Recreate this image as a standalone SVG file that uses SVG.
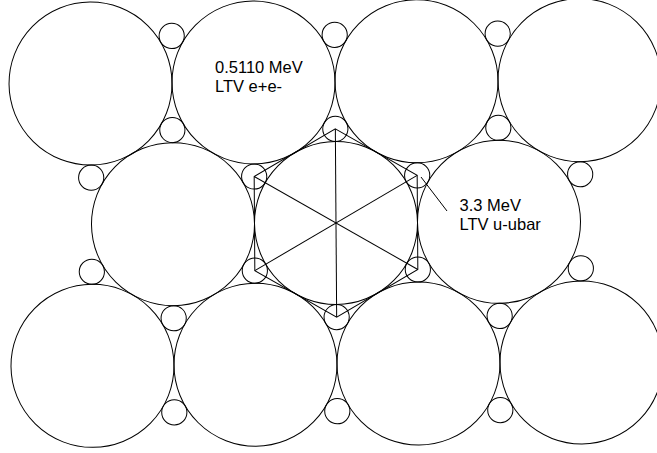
<svg xmlns="http://www.w3.org/2000/svg" width="657" height="453" viewBox="0 0 657 453">
<defs>
<style>
.big{fill:none;stroke:#000;stroke-width:1}
.small{fill:none;stroke:#000;stroke-width:1}
.ln{fill:none;stroke:#000;stroke-width:1}
.lbl{font-family:"Liberation Sans",Arial,sans-serif;font-size:16.5px;fill:#000}
</style>
</defs>
<rect width="657" height="453" fill="#fff"/>
<g id="lattice" transform="rotate(-0.4 336 223)">
<g id="big-circles">
<circle id="b-t1" class="big" cx="91.5" cy="81.84" r="81.5"/>
<circle id="b-t2" class="big" cx="254.5" cy="81.84" r="81.5"/>
<circle id="b-t3" class="big" cx="417.5" cy="81.84" r="81.5"/>
<circle id="b-t4" class="big" cx="580.5" cy="81.84" r="81.5"/>
<circle id="b-m1" class="big" cx="173" cy="223" r="81.5"/>
<circle id="b-m2" class="big" cx="336" cy="223" r="81.5"/>
<circle id="b-m3" class="big" cx="499" cy="223" r="81.5"/>
<circle id="b-b1" class="big" cx="91.5" cy="364.16" r="81.5"/>
<circle id="b-b2" class="big" cx="254.5" cy="364.16" r="81.5"/>
<circle id="b-b3" class="big" cx="417.5" cy="364.16" r="81.5"/>
<circle id="b-b4" class="big" cx="580.5" cy="364.16" r="81.5"/>
</g>
<g id="small-circles">
<circle class="small" cx="173" cy="34.8" r="12.6"/>
<circle class="small" cx="336" cy="34.8" r="12.6"/>
<circle class="small" cx="499" cy="34.8" r="12.6"/>
<circle class="small" cx="173" cy="128.9" r="12.6"/>
<circle class="small" cx="336" cy="128.9" r="12.6"/>
<circle class="small" cx="499" cy="128.9" r="12.6"/>
<circle class="small" cx="91.5" cy="175.95" r="12.6"/>
<circle class="small" cx="254.5" cy="175.95" r="12.6"/>
<circle class="small" cx="417.5" cy="175.95" r="12.6"/>
<circle class="small" cx="580.5" cy="175.95" r="12.6"/>
<circle class="small" cx="91.5" cy="270.05" r="12.6"/>
<circle class="small" cx="254.5" cy="270.05" r="12.6"/>
<circle class="small" cx="417.5" cy="270.05" r="12.6"/>
<circle class="small" cx="580.5" cy="270.05" r="12.6"/>
<circle class="small" cx="173" cy="317.1" r="12.6"/>
<circle class="small" cx="336" cy="317.1" r="12.6"/>
<circle class="small" cx="499" cy="317.1" r="12.6"/>
<circle class="small" cx="173" cy="411.2" r="12.6"/>
<circle class="small" cx="336" cy="411.2" r="12.6"/>
<circle class="small" cx="499" cy="411.2" r="12.6"/>
</g>
<g id="hexagram">
<polygon class="ln" points="336,128.9 417.5,175.95 417.5,270.05 336,317.1 254.5,270.05 254.5,175.95"/>
<line class="ln" x1="336" y1="128.9" x2="336" y2="317.1"/>
<line class="ln" x1="254.5" y1="175.95" x2="417.5" y2="270.05"/>
<line class="ln" x1="254.5" y1="270.05" x2="417.5" y2="175.95"/>
</g>
</g>
<g id="connectors">
<line class="ln" x1="421" y1="177" x2="447" y2="211"/>
</g>
<g id="label-ee">
<text class="lbl" x="215" y="73">0.5110 MeV</text>
<text class="lbl" x="215" y="92">LTV e+e-</text>
</g>
<g id="label-uu">
<text class="lbl" x="459.5" y="211">3.3 MeV</text>
<text class="lbl" x="459.5" y="230">LTV u-ubar</text>
</g>
</svg>
